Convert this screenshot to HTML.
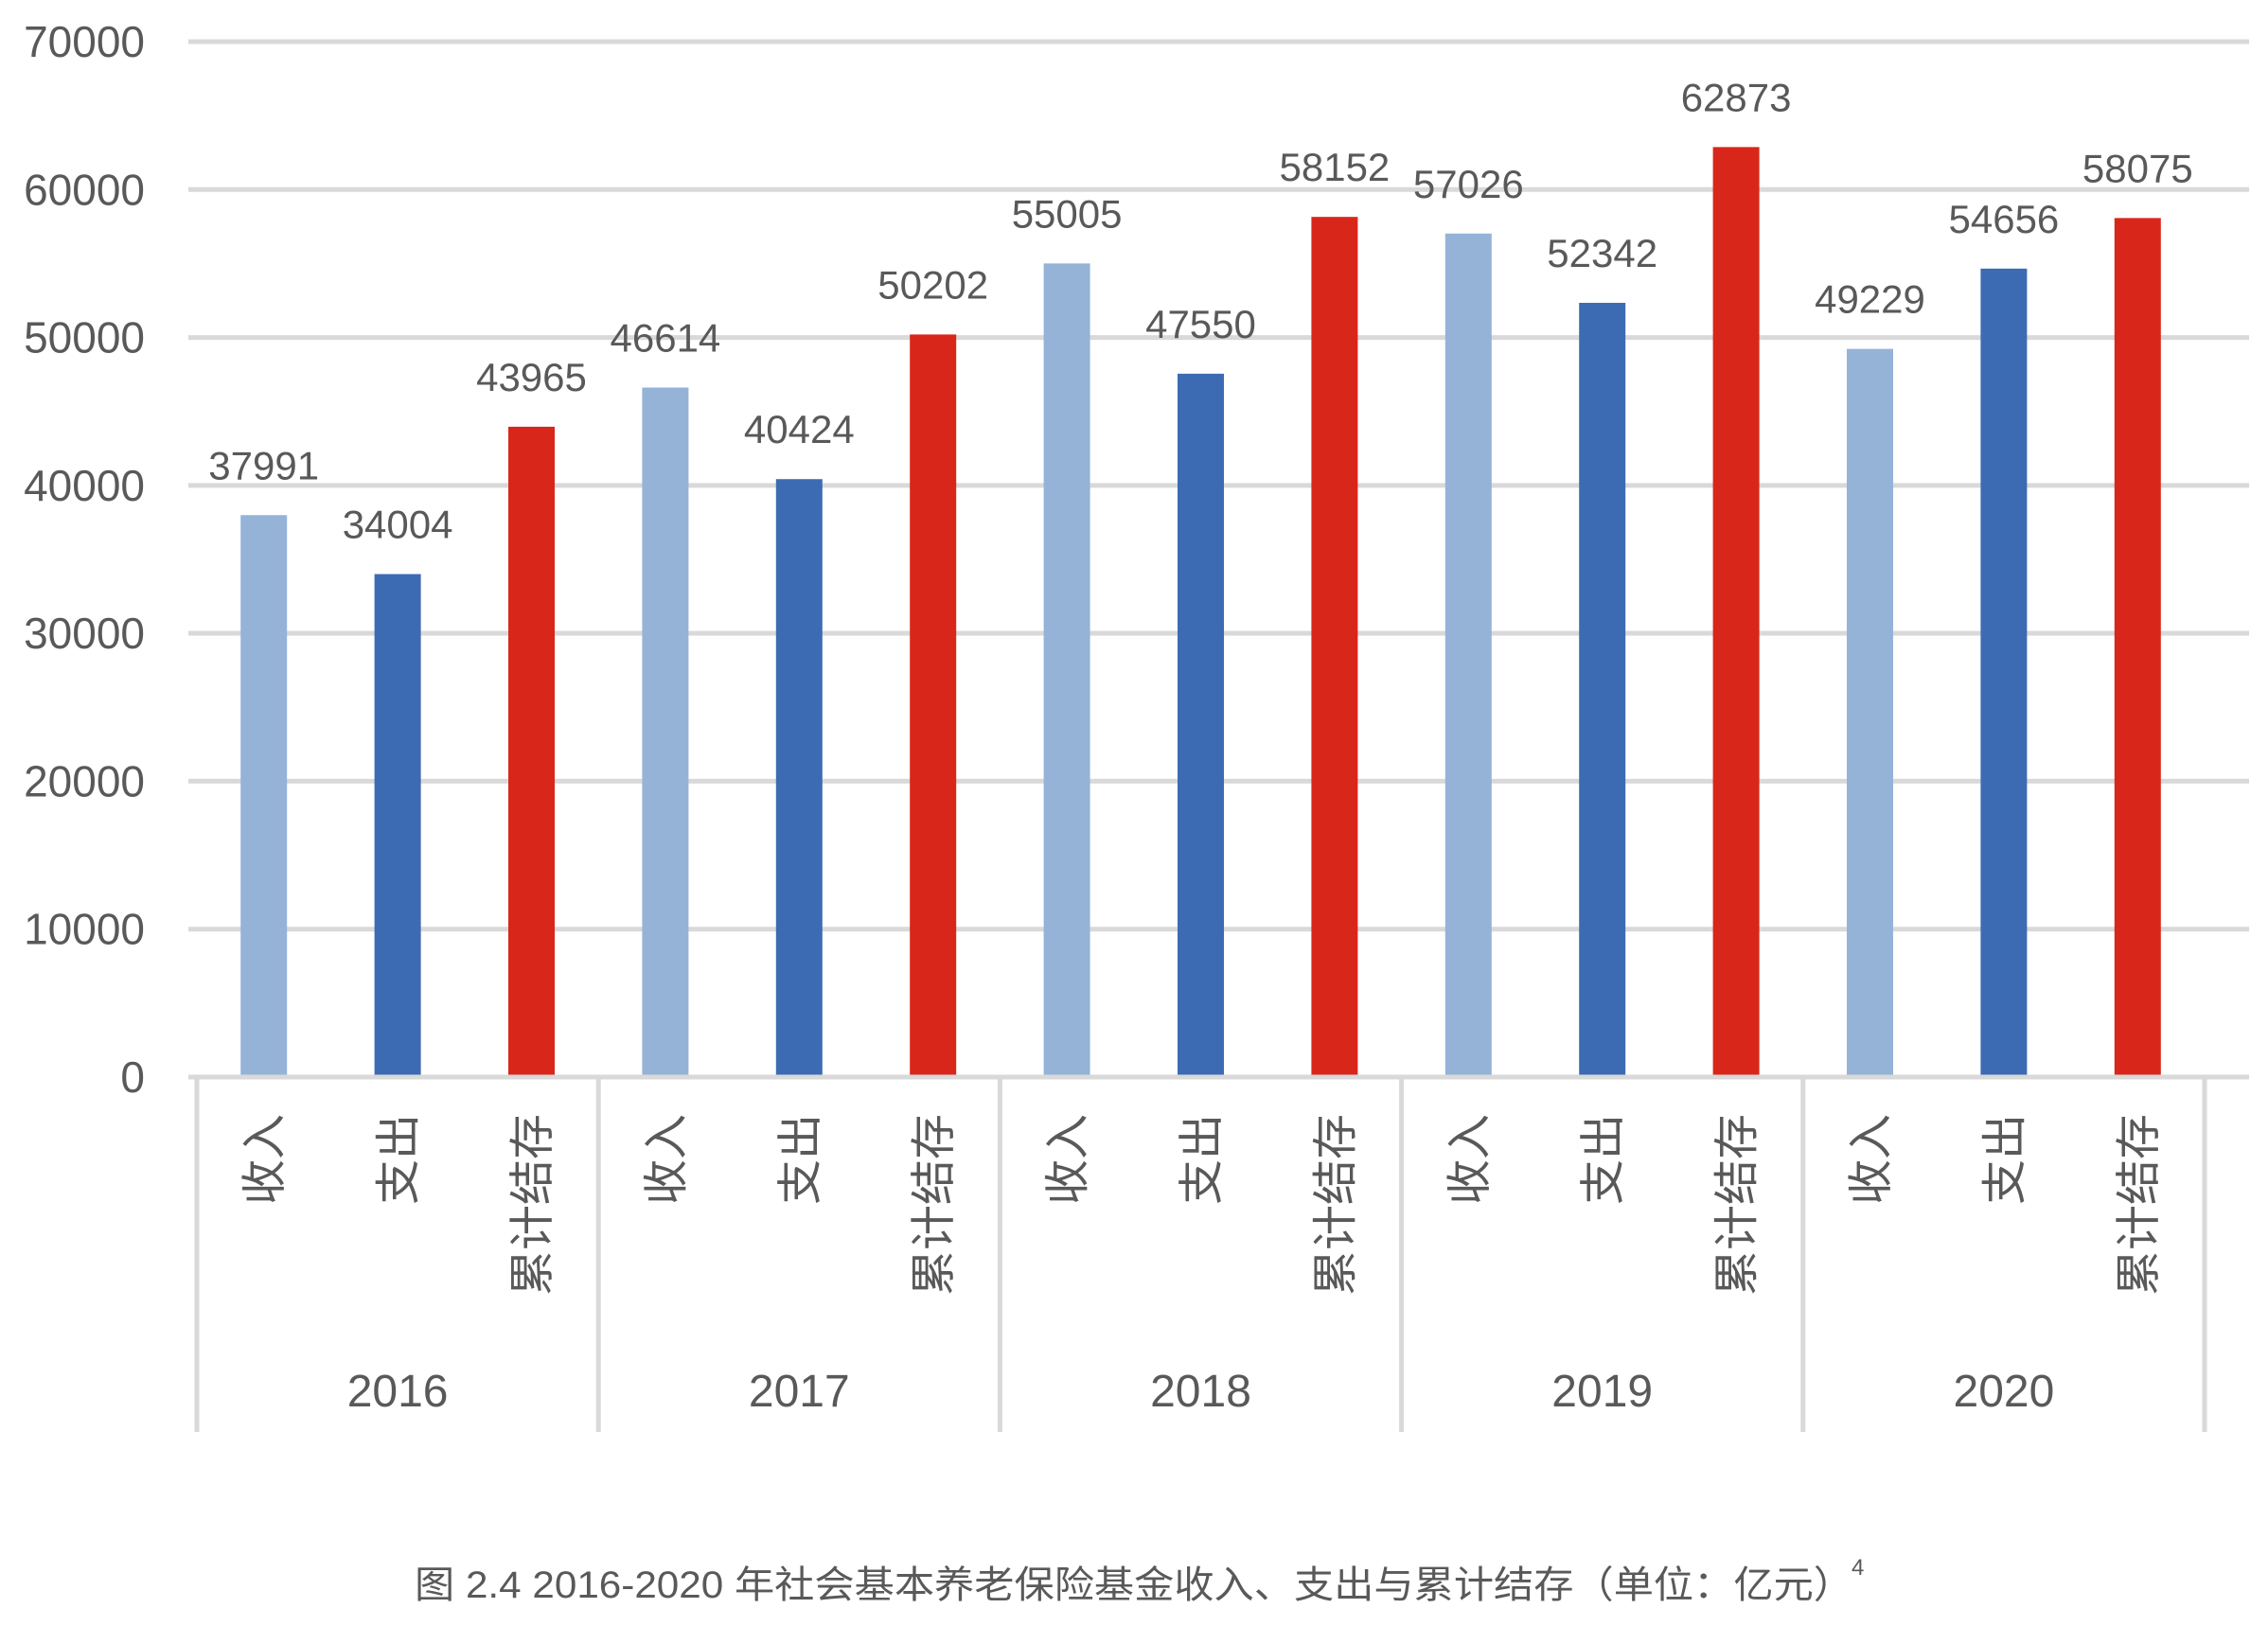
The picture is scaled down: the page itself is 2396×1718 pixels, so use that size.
<!DOCTYPE html>
<html><head><meta charset="utf-8"><style>
html,body{margin:0;padding:0;background:#fff;}
svg{display:block;}
text{font-family:"Liberation Sans","Noto Sans CJK SC",sans-serif;fill:#595959;}
</style></head><body>
<svg id="chart" width="2396" height="1718" viewBox="0 0 2396 1718" xmlns="http://www.w3.org/2000/svg">
<g id="grid"></g>
<g id="yaxis"></g>
<g id="bars"></g>
<g id="labels"></g>
<g id="xaxis"></g>
<text x="1198" y="1688" text-anchor="middle" font-size="40" textLength="1520" lengthAdjust="spacingAndGlyphs">图 2.4 2016-2020 年社会基本养老保险基金收入、支出与累计结存（单位：亿元）</text>
<text x="1956" y="1664" font-size="24">4</text>
</svg>
<script>
const years = ["2016","2017","2018","2019","2020"];
const subCats = ["收入","支出","累计结存"];
const income = [37991, 46614, 55005, 57026, 49229];
const expense = [34004, 40424, 47550, 52342, 54656];
const balance = [43965, 50202, 58152, 62873, 58075];
const yTicks = [0,10000,20000,30000,40000,50000,60000,70000];

const NS="http://www.w3.org/2000/svg";
const yMin=0,yMax=70000,yTop=44,yBot=1138;
const xL=208,xR=2329;
function yScale(v){return yBot-(v-yMin)/(yMax-yMin)*(yBot-yTop);}
const nSlots=years.length*subCats.length;
const slotW=(xR-xL)/nSlots;
function xCenter(g,s){return xL+(g*subCats.length+s+0.5)*slotW;}
function mk(tag,attrs,parent){const e=document.createElementNS(NS,tag);for(const k in attrs)e.setAttribute(k,attrs[k]);parent.appendChild(e);return e;}

const grid=document.getElementById('grid'),yaxis=document.getElementById('yaxis');
yTicks.forEach(t=>{
  if(t!==0){const l=mk('line',{x1:199,x2:2376,y1:yScale(t),y2:yScale(t),stroke:'#d9d9d9','stroke-width':5},grid);
  
  }
  const tx=mk('text',{x:153,y:yScale(t)+16,'text-anchor':'end','font-size':46},yaxis);
  tx.textContent=String(t);
  
  
});

const series=[income,expense,balance];
const colors=['#95b3d7','#3d6bb3','#d9261a'];
const bars=document.getElementById('bars'),labels=document.getElementById('labels');
const bw=49;
years.forEach((yr,g)=>{
  series.forEach((arr,s)=>{
    const cx=xCenter(g,s),v=arr[g];
    const r=mk('rect',{x:cx-bw/2,y:yScale(v),width:bw,height:yScale(0)-yScale(v),fill:colors[s]},bars);
    
    
    const t=mk('text',{x:cx,y:yScale(v)-38,'text-anchor':'middle','font-size':42},labels);
    t.textContent=String(v);
    
    
  });
});

const xaxis=document.getElementById('xaxis');
const base=mk('line',{x1:199,x2:2376,y1:yBot,y2:yBot,stroke:'#d9d9d9','stroke-width':5},xaxis);


for(let g=0;g<=years.length;g++){
  const x=xL+g*subCats.length*slotW;
  const l=mk('line',{x1:x,x2:x,y1:yBot,y2:1513,stroke:'#d9d9d9','stroke-width':5},xaxis);
  
  
}
years.forEach((yr,g)=>{
  subCats.forEach((c,s)=>{
    const cx=xCenter(g,s);
    const t=mk('text',{x:0,y:0,'text-anchor':'end','font-size':48,transform:'translate('+(cx+17)+',1177) rotate(-90)'},xaxis);
    t.textContent=c;
    
    
  });
  const yt=mk('text',{x:xCenter(g,1),y:1486,'text-anchor':'middle','font-size':48},xaxis);
  yt.textContent=yr;
  
  
});
</script>
</body></html>
